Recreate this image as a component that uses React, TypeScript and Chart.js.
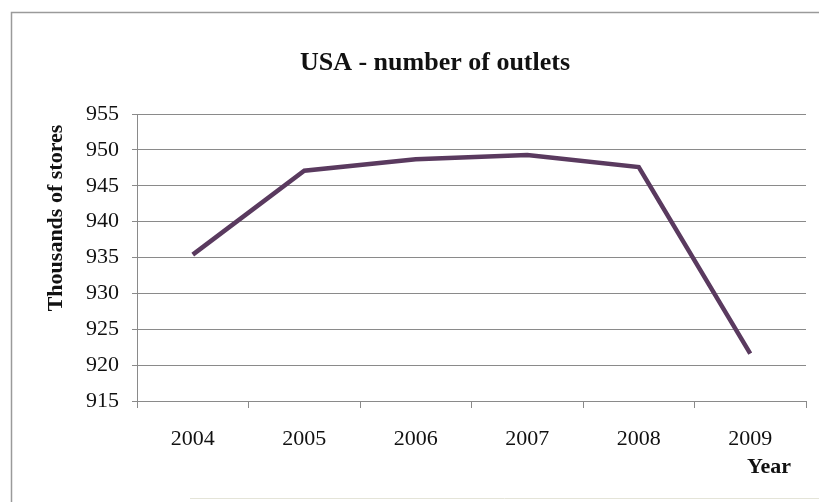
import React, { useEffect, useRef } from "react";
import { Chart, registerables } from "chart.js";

Chart.register(...registerables);

const years = ["2004", "2005", "2006", "2007", "2008", "2009"];
const outlets = [935.4, 947.1, 948.7, 949.3, 947.6, 921.6];
const yMin = 915;
const yMax = 955;
const yStep = 5;
const chartTitle = "USA - number of outlets";
const yTitle = "Thousands of stores";
const xTitle = "Year";

const SERIF = "'Liberation Serif', 'Times New Roman', serif";

const decorPlugin = {
  id: "decor",
  beforeDraw(chart: any) {
    const ctx = chart.ctx;
    ctx.save();
    ctx.fillStyle = "#ffffff";
    ctx.fillRect(0, 0, chart.width, chart.height);
    ctx.strokeStyle = "#9a9a9a";
    ctx.lineWidth = 1.5;
    ctx.beginPath();
    ctx.moveTo(11.5, chart.height);
    ctx.lineTo(11.5, 12.5);
    ctx.lineTo(chart.width, 12.5);
    ctx.stroke();
    ctx.strokeStyle = "#e4e4d8";
    ctx.lineWidth = 1;
    ctx.beginPath();
    ctx.moveTo(190, 498.5);
    ctx.lineTo(chart.width, 498.5);
    ctx.stroke();
    ctx.restore();
  },
  afterDraw(chart: any) {
    const ctx = chart.ctx;
    const area = chart.chartArea;
    ctx.save();
    ctx.fillStyle = "#111111";
    ctx.textAlign = "center";
    ctx.textBaseline = "middle";
    ctx.font = `bold 26px ${SERIF}`;
    ctx.fillText(chartTitle, 435, 63);
    ctx.font = `bold 22px ${SERIF}`;
    ctx.save();
    ctx.translate(56, 218);
    ctx.rotate(-Math.PI / 2);
    ctx.fillText(yTitle, 0, 0);
    ctx.restore();
    ctx.textAlign = "right";
    ctx.fillText(xTitle, area.right - 15, 467);
    ctx.restore();
  },
};

export default function App() {
  const ref = useRef<HTMLCanvasElement | null>(null);
  useEffect(() => {
    document.body.style.margin = "0";
    const canvas = ref.current!;
    const chart = new Chart(canvas, {
      type: "line",
      data: {
        labels: years,
        datasets: [
          {
            data: outlets,
            borderColor: "#5a3a5f",
            borderWidth: 4.5,
            pointRadius: 0,
            tension: 0,
            fill: false,
          },
        ],
      },
      options: {
        animation: false,
        responsive: false,
        maintainAspectRatio: false,
        layout: { padding: { top: 114, right: 13, left: 0, bottom: 0 } },
        plugins: {
          legend: { display: false },
          title: { display: false },
          tooltip: { enabled: false },
        },
        scales: {
          x: {
            offset: true,
            afterFit(scale: any) {
              scale.height = 101;
            },
            grid: {
              offset: true,
              drawOnChartArea: false,
              drawTicks: true,
              tickLength: 7,
              color: "#8a8a8a",
            },
            border: { color: "#8a8a8a", width: 1 },
            ticks: {
              color: "#111111",
              font: { family: SERIF, size: 22 },
              padding: 18,
              maxRotation: 0,
            },
          },
          y: {
            min: yMin,
            max: yMax,
            afterFit(scale: any) {
              scale.width = 137;
            },
            grid: {
              color: "#8a8a8a",
              drawTicks: true,
              tickLength: 5,
            },
            border: { color: "#8a8a8a", width: 1 },
            ticks: {
              stepSize: yStep,
              color: "#111111",
              font: { family: SERIF, size: 22 },
              padding: 13,
            },
          },
        },
      },
      plugins: [decorPlugin],
    } as any);
    return () => chart.destroy();
  }, []);
  return (
    <div style={{ position: "fixed", left: 0, top: 0, width: 819, height: 502 }}>
      <canvas ref={ref} width={819} height={502} style={{ width: 819, height: 502 }} />
    </div>
  );
}
